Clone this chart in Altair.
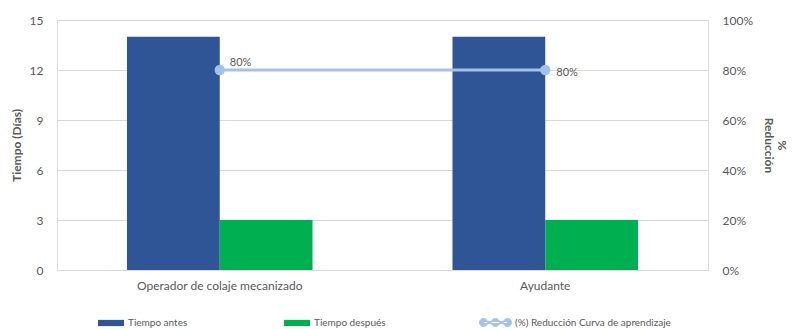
import altair as alt
import pandas as pd

# ---- data ----
categorias = ["Operador de colaje mecanizado", "Ayudante"]
tiempo_antes = [14, 14]
tiempo_despues = [3, 3]
reduccion = [0.80, 0.80]
etiquetas_reduccion = ["80%", "80%"]
series_barras = ["Tiempo antes", "Tiempo después"]
serie_linea = "(%) Reducción Curva de aprendizaje"
ticks_izq = [0, 3, 6, 9, 12, 15]
ticks_der = [0, 0.2, 0.4, 0.6, 0.8, 1.0]

AZUL = "#2F5597"
VERDE = "#00B050"
CELESTE = "#A4C2E8"
TEXTO = "#595959"
GRID = "#D9D9D9"
FONT = "Lato"

bars_df = pd.DataFrame({
    "categoria": categorias * 2,
    "serie": [series_barras[0]] * 2 + [series_barras[1]] * 2,
    "valor": tiempo_antes + tiempo_despues,
})
line_df = pd.DataFrame({
    "categoria": categorias,
    "reduccion": reduccion,
    "etiqueta": etiquetas_reduccion,
    "serie": [serie_linea] * 2,
})

RECT = "M-1,-0.24H1V0.24H-1Z"
LINESYM = ("M-1,0A0.25,0.25 0 1,0 -0.5,0A0.25,0.25 0 1,0 -1,0Z "
           "M-0.25,0A0.25,0.25 0 1,0 0.25,0A0.25,0.25 0 1,0 -0.25,0Z "
           "M0.5,0A0.25,0.25 0 1,0 1,0A0.25,0.25 0 1,0 0.5,0Z "
           "M-0.75,-0.07H0.75V0.07H-0.75Z")

legend_common = dict(orient="none", title=None, labelFont=FONT, labelFontSize=10,
                     labelColor=TEXTO, labelOffset=3, padding=0)

x_enc = alt.X("categoria:N", sort=categorias,
              scale=alt.Scale(paddingInner=0.43, paddingOuter=0.215),
              axis=alt.Axis(title=None, labelAngle=0, ticks=False, domainColor=GRID,
                            labelPadding=10, labelFontSize=12, labelColor=TEXTO,
                            labelFont=FONT))
xoff_enc = alt.XOffset("serie:N", scale=alt.Scale(domain=series_barras, paddingInner=0,
                                                    paddingOuter=0))
y_left = alt.Y("valor:Q", scale=alt.Scale(domain=[0, 15]),
               axis=alt.Axis(values=ticks_izq, title="Tiempo (Días)", grid=True,
                             gridColor=GRID, domain=False, ticks=False, labelPadding=14,
                             labelFontSize=12, labelColor=TEXTO, labelFont=FONT,
                             titleFont=FONT, titleFontSize=12, titleFontWeight="bold",
                             titleColor=TEXTO, titlePadding=6))

base_bar = alt.Chart(bars_df)
bar_antes = base_bar.transform_filter(alt.datum.serie == series_barras[0]).mark_bar().encode(
    x=x_enc, xOffset=xoff_enc, y=y_left,
    color=alt.Color("serie:N", scale=alt.Scale(domain=[series_barras[0]], range=[AZUL]),
                    legend=alt.Legend(legendX=40, legendY=289, symbolType=RECT,
                                      symbolSize=676, **legend_common)),
)
bar_desp = base_bar.transform_filter(alt.datum.serie == series_barras[1]).mark_bar().encode(
    x=x_enc, xOffset=xoff_enc, y=y_left,
    fill=alt.Fill("serie:N", scale=alt.Scale(domain=[series_barras[1]], range=[VERDE]),
                  legend=alt.Legend(legendX=226, legendY=289, symbolType=RECT,
                                    symbolSize=676, **legend_common)),
)

y_right = alt.Y("reduccion:Q", scale=alt.Scale(domain=[0, 1]),
                axis=alt.Axis(orient="right", values=ticks_der, format=".0%", grid=False,
                              domain=False, ticks=False, labelPadding=14, labelFontSize=12,
                              labelColor=TEXTO, labelFont=FONT, title=["%", "Reducción"],
                              titleFont=FONT, titleFontSize=12, titleFontWeight="bold",
                              titleColor=TEXTO, titlePadding=9, titleLineHeight=13))

base_line = alt.Chart(line_df)
linea = base_line.mark_line(color=CELESTE, strokeWidth=3).encode(x=x_enc, y=y_right)
puntos = base_line.mark_circle(size=70, color=CELESTE, opacity=1).encode(
    x=x_enc, y=y_right,
    stroke=alt.Stroke("serie:N", scale=alt.Scale(domain=[serie_linea], range=[CELESTE]),
                      legend=alt.Legend(legendX=422, legendY=286, symbolType=LINESYM,
                                        symbolSize=1024, symbolStrokeWidth=1,
                                        symbolFillColor=CELESTE, **legend_common)),
)
txt_style = dict(font=FONT, fontSize=11, color=TEXTO, align="left")
texto1 = base_line.transform_filter(alt.datum.categoria == categorias[0]).mark_text(
    dx=10, dy=-7, **txt_style).encode(x=x_enc, y=y_right, text="etiqueta:N")
texto2 = base_line.transform_filter(alt.datum.categoria == categorias[1]).mark_text(
    dx=11, dy=3, **txt_style).encode(x=x_enc, y=y_right, text="etiqueta:N")

capa_barras = alt.layer(bar_antes, bar_desp)
capa_linea = alt.layer(linea, puntos, texto1, texto2)

chart = alt.layer(capa_barras, capa_linea).resolve_scale(y="independent").properties(
    width=651, height=250,
    autosize=alt.AutoSizeParams(type="none"),
    padding={"left": 49, "top": 12, "right": 83, "bottom": 59},
).configure_view(stroke=None).configure(font=FONT, background="white")

chart.save("out.html", embed_options={"renderer": "svg", "actions": False})
